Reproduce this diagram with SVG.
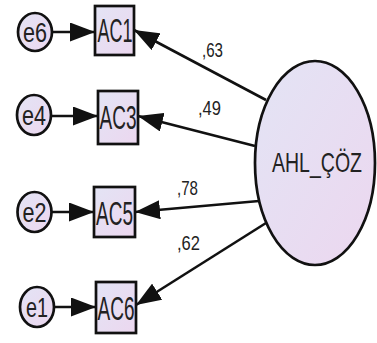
<svg xmlns="http://www.w3.org/2000/svg" width="377" height="343" viewBox="0 0 377 343">
  <style>
    .node { stroke: #111; stroke-width: 2.7; fill: url(#lav); }
    .edge { stroke: #111; stroke-width: 2.6; fill: none; marker-end: url(#head); }
    .lbl { font-family: "Liberation Sans", Arial, sans-serif; fill: #222; }
    .item { font-size: 34px; }
    .err { font-size: 27px; }
    .lat { font-size: 28px; }
    .coef { font-size: 21px; }
  </style>
  <defs>
    <linearGradient id="lav" x1="0" y1="0" x2="1" y2="1">
      <stop offset="0" stop-color="#e3e4f5"/>
      <stop offset="1" stop-color="#ecd7ef"/>
    </linearGradient>
    <marker id="head" markerUnits="userSpaceOnUse" markerWidth="25" markerHeight="19" refX="25" refY="9.5" orient="auto">
      <path d="M0,0 L25,9.5 L0,19 z" fill="#111"/>
    </marker>
  </defs>

  <!-- paths: errors to items, latent factor to items -->
  <g id="connectors">
    <line class="edge" x1="52" y1="32" x2="95" y2="32"/>
    <line class="edge" x1="51" y1="116" x2="98" y2="116"/>
    <line class="edge" x1="51" y1="212" x2="94" y2="212"/>
    <line class="edge" x1="54" y1="307" x2="96" y2="307"/>
    <line class="edge" x1="266" y1="100" x2="134" y2="30"/>
    <line class="edge" x1="255" y1="146" x2="138" y2="116"/>
    <line class="edge" x1="259" y1="201" x2="135" y2="212"/>
    <line class="edge" x1="266" y1="223" x2="136" y2="305"/>
  </g>

  <!-- standardized loadings -->
  <g id="loadings">
    <text class="lbl coef" x="202" y="57" textLength="21" lengthAdjust="spacingAndGlyphs">,63</text>
    <text class="lbl coef" x="198" y="115" textLength="23" lengthAdjust="spacingAndGlyphs">,49</text>
    <text class="lbl coef" x="177" y="195" textLength="21" lengthAdjust="spacingAndGlyphs">,78</text>
    <text class="lbl coef" x="177" y="250" textLength="23" lengthAdjust="spacingAndGlyphs">,62</text>
  </g>

  <g id="AHL_COZ">
    <ellipse class="node" cx="315" cy="163" rx="60" ry="102"/>
    <text class="lbl lat" x="317" y="172" text-anchor="middle" textLength="90" lengthAdjust="spacingAndGlyphs">AHL_ÇÖZ</text>
  </g>

  <g id="AC1">
    <rect class="node" x="95" y="6" width="39" height="49"/>
    <text class="lbl item" x="115" y="42" text-anchor="middle" textLength="35" lengthAdjust="spacingAndGlyphs">AC1</text>
  </g>
  <g id="AC3">
    <rect class="node" x="98" y="91" width="40" height="53"/>
    <text class="lbl item" x="118" y="129" text-anchor="middle" textLength="37" lengthAdjust="spacingAndGlyphs">AC3</text>
  </g>
  <g id="AC5">
    <rect class="node" x="94" y="187" width="41" height="50"/>
    <text class="lbl item" x="114.5" y="225" text-anchor="middle" textLength="37" lengthAdjust="spacingAndGlyphs">AC5</text>
  </g>
  <g id="AC6">
    <rect class="node" x="96" y="282" width="40" height="51"/>
    <text class="lbl item" x="116" y="320" text-anchor="middle" textLength="37" lengthAdjust="spacingAndGlyphs">AC6</text>
  </g>

  <g id="e6">
    <ellipse class="node" cx="35" cy="32" rx="17" ry="19"/>
    <text class="lbl err" x="35" y="41.5" text-anchor="middle" textLength="24" lengthAdjust="spacingAndGlyphs">e6</text>
  </g>
  <g id="e4">
    <ellipse class="node" cx="34" cy="115" rx="17" ry="20"/>
    <text class="lbl err" x="34" y="124.5" text-anchor="middle" textLength="24" lengthAdjust="spacingAndGlyphs">e4</text>
  </g>
  <g id="e2">
    <ellipse class="node" cx="34.5" cy="212" rx="17" ry="20"/>
    <text class="lbl err" x="34.5" y="221.5" text-anchor="middle" textLength="24" lengthAdjust="spacingAndGlyphs">e2</text>
  </g>
  <g id="e1">
    <ellipse class="node" cx="37" cy="307" rx="17" ry="20"/>
    <text class="lbl err" x="37" y="316.5" text-anchor="middle" textLength="22" lengthAdjust="spacingAndGlyphs">e1</text>
  </g>
</svg>
